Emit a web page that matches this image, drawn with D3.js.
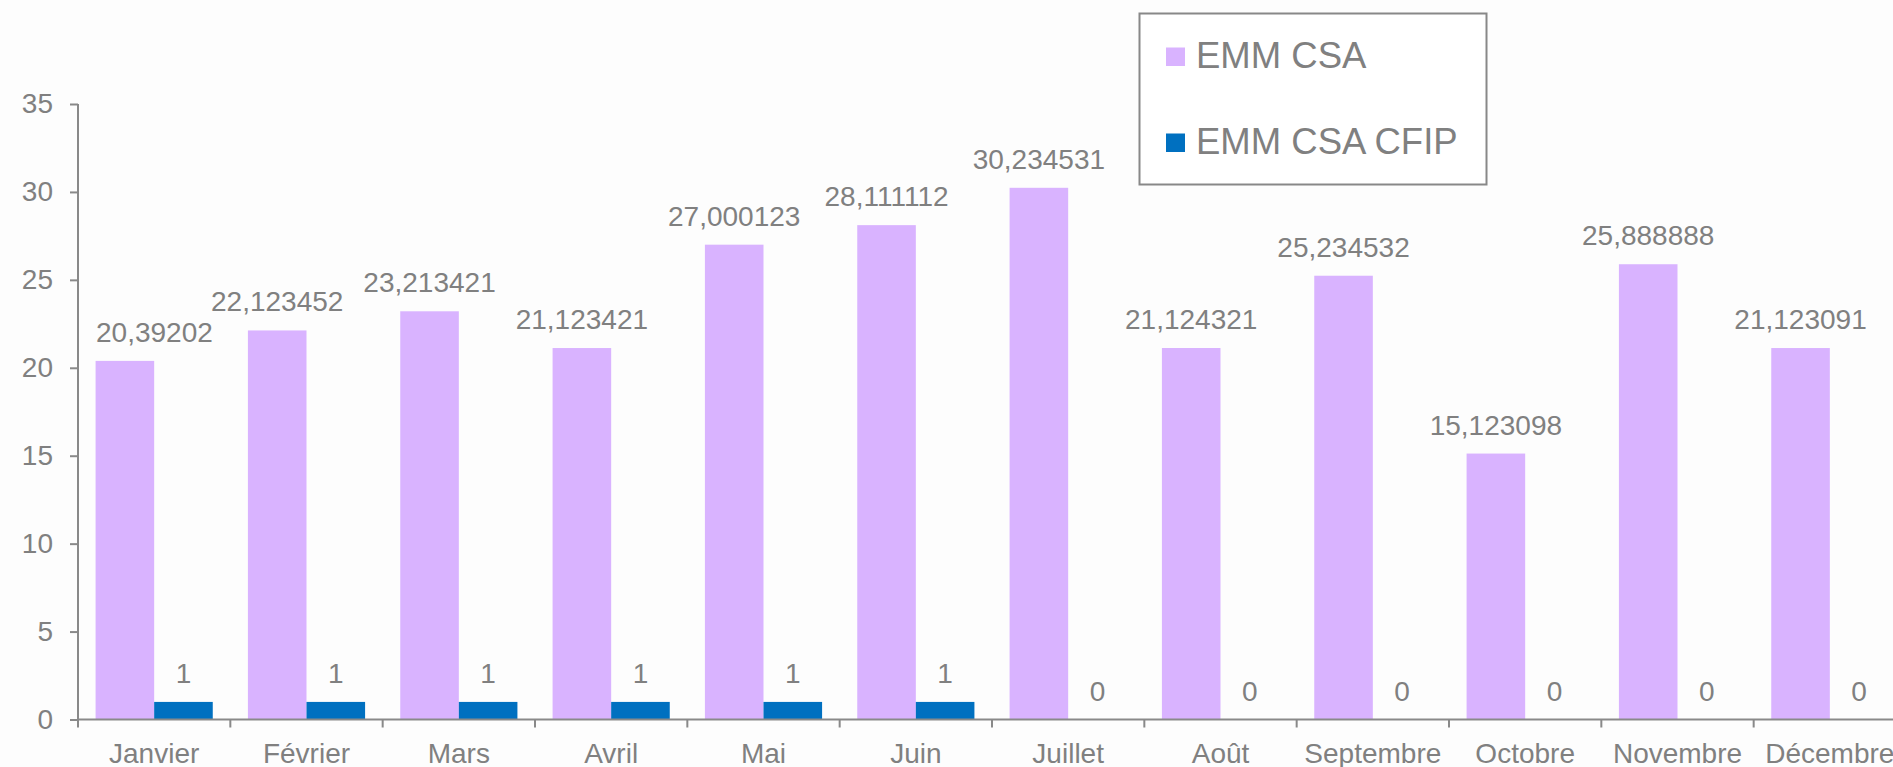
<!DOCTYPE html>
<html>
<head>
<meta charset="utf-8">
<script src="https://cdn.jsdelivr.net/npm/d3@7"></script>
<style>
  html, body { margin: 0; padding: 0; background: #fdfdfd; overflow: hidden; }
  svg { display: block; font-family: "Liberation Sans", Arial, sans-serif; }
</style>
</head>
<body>
<div id="chart"></div>
<script>
// Data
var months = ['Janvier', 'Février', 'Mars', 'Avril', 'Mai', 'Juin', 'Juillet', 'Août', 'Septembre', 'Octobre', 'Novembre', 'Décembre']
var series = ['EMM CSA', 'EMM CSA CFIP']
var emmCsa = [20.39202, 22.123452, 23.213421, 21.123421, 27.000123, 28.111112, 30.234531, 21.124321, 25.234532, 15.123098, 25.888888, 21.123091]
var emmCsaCfip = [1, 1, 1, 1, 1, 1, 0, 0, 0, 0, 0, 0]
var yTicks = [0, 5, 10, 15, 20, 25, 30, 35]
var colors = ['#d9b3ff', '#0070c0']

var values = [emmCsa, emmCsaCfip]
var rows = months.map(function(m, i) {
  return { month: m, vals: series.map(function(s, j) { return { key: s, idx: j, value: values[j][i] } }) }
})

var width = 1893, height = 767
var margin = {top: 104, left: 78, bottom: 767 - 719.5}
var plotRight = 1906

var svg = d3.select('#chart').append('svg')
  .attr('width', width)
  .attr('height', height)

var x0 = d3.scaleBand()
  .domain(months)
  .range([margin.left, plotRight])
  .padding(0)

var x1 = d3.scaleBand()
  .domain(series)
  .range([0, x0.bandwidth()])
  .paddingInner(0)
  .paddingOuter(0.3)

var y = d3.scaleLinear()
  .domain([0, 35])
  .range([height - margin.bottom, margin.top])

var textColor = '#808080'
var axisColor = '#898989'

// Bars
var groups = svg.append('g').selectAll('g')
  .data(rows)
  .join('g')
  .attr('transform', function(d) { return 'translate(' + x0(d.month) + ',0)' })

groups.selectAll('rect')
  .data(function(d) { return d.vals })
  .join('rect')
  .attr('x', function(d) { return x1(d.key) })
  .attr('y', function(d) { return y(d.value) })
  .attr('width', x1.bandwidth())
  .attr('height', function(d) { return y(0) - y(d.value) })
  .attr('fill', function(d) { return colors[d.idx] })

// Data labels
var labels = svg.append('g')
rows.forEach(function(r) {
  r.vals.forEach(function(v) {
    var cx = x0(r.month) + x1(v.key) + x1.bandwidth() / 2
    var t = labels.append('text')
      .attr('x', cx)
      .attr('y', y(v.value) - 19)
      .attr('text-anchor', 'middle')
      .attr('font-size', '28px')
      .attr('fill', textColor)
      .text(String(v.value).replace('.', ','))
    // keep labels inside the plot area (like Excel does)
    var w = t.node().getComputedTextLength()
    var minLeft = margin.left + 18
    if (cx - w / 2 < minLeft) t.attr('x', minLeft + w / 2)
  })
})

// Y axis
var yAxis = svg.append('g')
  .attr('transform', 'translate(' + margin.left + ',0)')
  .call(d3.axisLeft(y).tickValues(yTicks).tickSize(8).tickPadding(17))
yAxis.selectAll('path, line').attr('stroke', axisColor).attr('stroke-width', 2)
yAxis.select('.domain').attr('d', 'M0,' + y(35) + 'V' + y(0))
yAxis.selectAll('text')
  .attr('fill', textColor)
  .attr('font-size', '28px')
  .attr('font-family', '"Liberation Sans", Arial, sans-serif')

// X axis
var xAxis = svg.append('g')
  .attr('transform', 'translate(0,' + y(0) + ')')
  .call(d3.axisBottom(x0).tickSize(0).tickPadding(0))
xAxis.select('.domain').attr('stroke', axisColor).attr('stroke-width', 2)
  .attr('d', 'M' + margin.left + ',0H' + plotRight)
xAxis.selectAll('.tick text')
  .attr('fill', textColor)
  .attr('font-size', '28px')
  .attr('font-family', '"Liberation Sans", Arial, sans-serif')
  .attr('dy', null)
  .attr('y', 43)
// tick marks between categories
xAxis.append('g').selectAll('line')
  .data(months)
  .join('line')
  .attr('x1', function(d) { return x0(d) })
  .attr('x2', function(d) { return x0(d) })
  .attr('y1', 0)
  .attr('y2', 8)
  .attr('stroke', axisColor)
  .attr('stroke-width', 2)

// Legend
var legend = svg.append('g')
legend.append('rect')
  .attr('x', 1139.5)
  .attr('y', 13.5)
  .attr('width', 347)
  .attr('height', 171)
  .attr('fill', '#ffffff')
  .attr('stroke', '#888888')
  .attr('stroke-width', 2)

var legendY = [68, 154]
series.forEach(function(s, i) {
  legend.append('rect')
    .attr('x', 1166)
    .attr('y', legendY[i] - 20.5)
    .attr('width', 19)
    .attr('height', 18.5)
    .attr('fill', colors[i])
  legend.append('text')
    .attr('x', 1196)
    .attr('y', legendY[i])
    .attr('font-size', '36.5px')
    .attr('fill', textColor)
    .text(s)
})
</script>
</body>
</html>
